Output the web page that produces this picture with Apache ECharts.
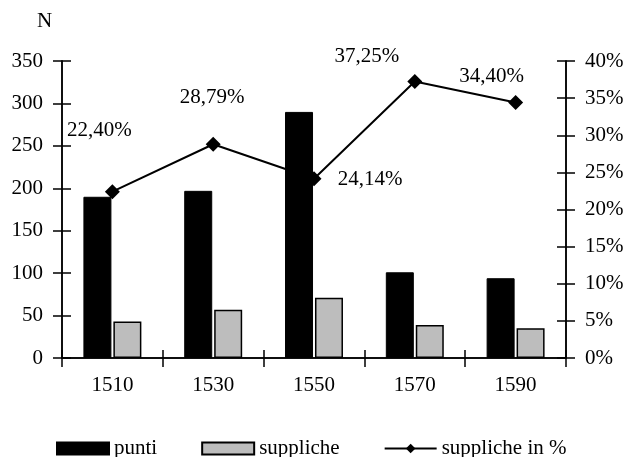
<!DOCTYPE html>
<html>
<head>
<meta charset="utf-8">
<script src="https://cdn.jsdelivr.net/npm/echarts@6/dist/echarts.min.js"></script>
<style>
  html, body { margin: 0; padding: 0; background: #fff; }
  #chart { width: 632px; height: 457px; }
</style>
</head>
<body>
<div id="chart"></div>
<script>
// dati
const years = ['1510', '1530', '1550', '1570', '1590'];
const punti = [190, 197, 290, 101, 94];
const suppliche = [43, 57, 71, 39, 35];
const supplichePct = [22.40, 28.79, 24.14, 37.25, 34.40];
// posizione delle etichette percentuali (offset rispetto al marker)
const pctLabelOffsets = [[-13, -61], [-1, -47], [56, 1], [-48, -25], [-24, -26]];

const font = 'Liberation Serif';
const fs = 21;
const fmtPct = v => v.toFixed(2).replace('.', ',') + '%';

const chart = echarts.init(document.getElementById('chart'));

const lineStyle = { color: '#000', width: 1.5 };
const baseAxis = {
    axisLine: { show: true, lineStyle: lineStyle },
    axisTick: { show: true, length: 9, lineStyle: lineStyle },
    splitLine: { show: false }
};

const option = {
    animation: false,
    title: {
        text: 'N', left: 32, top: 6,
        textStyle: { fontFamily: font, fontSize: fs, fontWeight: 'normal', color: '#000' }
    },
    grid: { left: 62, right: 66, top: 61, bottom: 99 },
    legend: {
        left: 51, top: 433,
        itemWidth: 52, itemHeight: 12, itemGap: 44,
        textStyle: { fontFamily: font, fontSize: fs, color: '#000' },
        data: [
            { name: 'punti', icon: 'rect' },
            { name: 'suppliche', icon: 'rect' },
            { name: 'suppliche in %' }
        ]
    },
    xAxis: [
        Object.assign({}, baseAxis, {
            type: 'category', data: years,
            axisLabel: { fontFamily: font, fontSize: fs, color: '#000', margin: 17 }
        }),
        Object.assign({}, baseAxis, {
            type: 'category', data: years, position: 'bottom',
            axisTick: { show: true, inside: true, length: 8, lineStyle: lineStyle },
            axisLabel: { show: false }
        })
    ],
    yAxis: [
        Object.assign({}, baseAxis, {
            type: 'value', min: 0, max: 350, interval: 50, position: 'left',
            axisLabel: { fontFamily: font, fontSize: fs, color: '#000', margin: 19 }
        }),
        Object.assign({}, baseAxis, {
            type: 'value', min: 0, max: 40, interval: 5, position: 'right',
            axisLabel: { fontFamily: font, fontSize: fs, color: '#000', margin: 19, formatter: '{value}%' }
        }),
        Object.assign({}, baseAxis, {
            type: 'value', min: 0, max: 350, interval: 50, position: 'left',
            axisTick: { show: true, inside: true, length: 9, lineStyle: lineStyle },
            axisLabel: { show: false }
        }),
        Object.assign({}, baseAxis, {
            type: 'value', min: 0, max: 40, interval: 5, position: 'right',
            axisTick: { show: true, inside: true, length: 9, lineStyle: lineStyle },
            axisLabel: { show: false }
        })
    ],
    series: [
        {
            name: 'punti', type: 'bar', yAxisIndex: 0,
            barWidth: 28, barGap: '7%',
            itemStyle: { color: '#000', borderColor: '#000', borderWidth: 1 },
            data: punti
        },
        {
            name: 'suppliche', type: 'bar', yAxisIndex: 0,
            barWidth: 28,
            itemStyle: { color: '#bdbdbd', borderColor: '#000', borderWidth: 1.5 },
            data: suppliche
        },
        {
            name: 'suppliche in %', type: 'line', yAxisIndex: 1,
            symbol: 'diamond', symbolSize: 15,
            lineStyle: { color: '#000', width: 2 },
            itemStyle: { color: '#000' },
            data: supplichePct.map((v, i) => ({
                value: v,
                label: {
                    show: true, position: 'inside', offset: pctLabelOffsets[i],
                    formatter: p => fmtPct(p.value),
                    fontFamily: font, fontSize: fs, color: '#000'
                }
            }))
        }
    ]
};

chart.setOption(option);
</script>
</body>
</html>
